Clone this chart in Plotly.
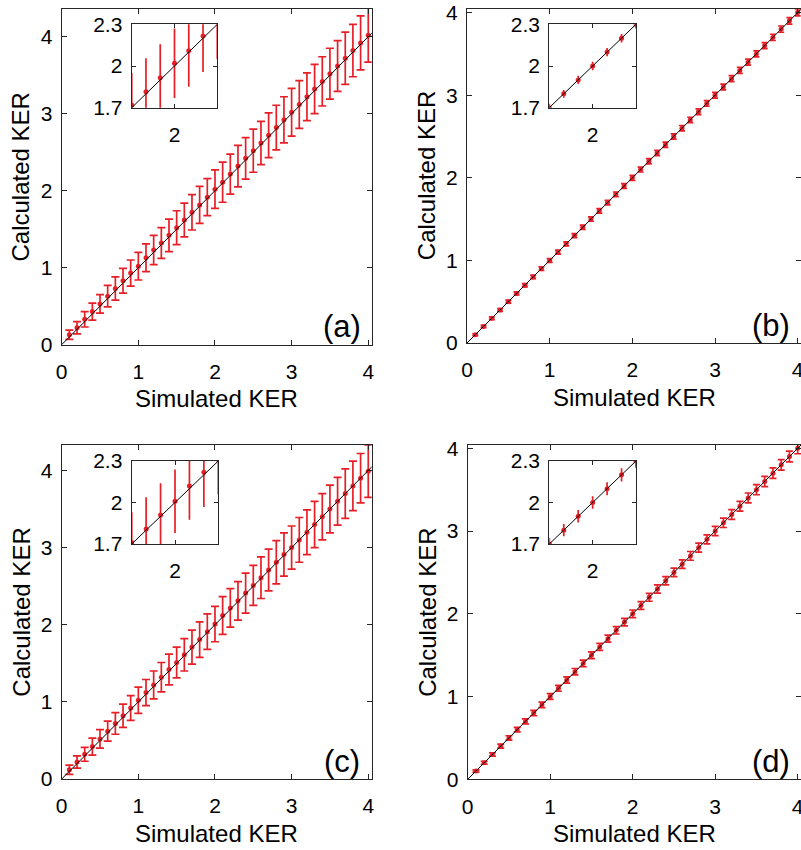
import plotly.graph_objects as go

# ---------------- data ----------------
sim_ker = [0.1, 0.2, 0.3, 0.4, 0.5, 0.6, 0.7, 0.8, 0.9, 1.0,
           1.1, 1.2, 1.3, 1.4, 1.5, 1.6, 1.7, 1.8, 1.9, 2.0,
           2.1, 2.2, 2.3, 2.4, 2.5, 2.6, 2.7, 2.8, 2.9, 3.0,
           3.1, 3.2, 3.3, 3.4, 3.5, 3.6, 3.7, 3.8, 3.9, 4.0]

calc_a = [0.13, 0.22, 0.33, 0.43, 0.53, 0.63, 0.73, 0.83, 0.93, 1.02,
          1.13, 1.23, 1.32, 1.42, 1.52, 1.62, 1.72, 1.815, 1.916, 2.02,
          2.11, 2.216, 2.32, 2.42, 2.52, 2.62, 2.72, 2.82, 2.92, 3.02,
          3.12, 3.22, 3.32, 3.42, 3.52, 3.62, 3.72, 3.82, 3.92, 4.02]
err_a = [0.06, 0.08, 0.10, 0.11, 0.12, 0.14, 0.15, 0.16, 0.17, 0.18,
         0.18, 0.19, 0.20, 0.21, 0.22, 0.22, 0.23, 0.24, 0.24, 0.25,
         0.26, 0.26, 0.27, 0.27, 0.28, 0.28, 0.29, 0.29, 0.30, 0.31,
         0.31, 0.31, 0.32, 0.32, 0.33, 0.33, 0.34, 0.34, 0.35, 0.35]

calc_b = [0.10, 0.20, 0.30, 0.40, 0.50, 0.60, 0.70, 0.80, 0.90, 1.00,
          1.10, 1.20, 1.30, 1.40, 1.50, 1.60, 1.70, 1.80, 1.90, 2.00,
          2.10, 2.20, 2.30, 2.40, 2.50, 2.60, 2.70, 2.80, 2.90, 3.00,
          3.10, 3.20, 3.30, 3.40, 3.50, 3.60, 3.70, 3.80, 3.90, 4.00]
err_b = [0.012, 0.014, 0.016, 0.017, 0.018, 0.019, 0.020, 0.021, 0.022, 0.023,
         0.024, 0.024, 0.025, 0.026, 0.026, 0.027, 0.028, 0.028, 0.029, 0.030,
         0.030, 0.031, 0.031, 0.032, 0.032, 0.033, 0.033, 0.034, 0.034, 0.035,
         0.035, 0.036, 0.036, 0.036, 0.037, 0.037, 0.038, 0.038, 0.039, 0.039]

calc_c = [0.12, 0.22, 0.32, 0.42, 0.52, 0.62, 0.72, 0.82, 0.92, 1.02,
          1.12, 1.22, 1.32, 1.42, 1.51, 1.61, 1.71, 1.808, 1.91, 2.009,
          2.12, 2.218, 2.31, 2.41, 2.51, 2.61, 2.71, 2.81, 2.91, 3.00,
          3.10, 3.20, 3.30, 3.40, 3.50, 3.60, 3.70, 3.80, 3.90, 3.99]
err_c = [0.06, 0.08, 0.09, 0.11, 0.12, 0.13, 0.14, 0.15, 0.16, 0.17,
         0.17, 0.18, 0.19, 0.20, 0.20, 0.21, 0.22, 0.23, 0.23, 0.23,
         0.245, 0.25, 0.25, 0.26, 0.26, 0.27, 0.27, 0.28, 0.28, 0.28,
         0.29, 0.29, 0.30, 0.30, 0.31, 0.31, 0.32, 0.32, 0.32, 0.34]

calc_d = [0.10, 0.20, 0.30, 0.40, 0.50, 0.60, 0.70, 0.80, 0.90, 1.00,
          1.10, 1.20, 1.30, 1.40, 1.50, 1.60, 1.70, 1.80, 1.90, 2.00,
          2.10, 2.20, 2.30, 2.40, 2.50, 2.60, 2.70, 2.80, 2.90, 3.00,
          3.10, 3.20, 3.30, 3.40, 3.50, 3.60, 3.70, 3.80, 3.90, 4.00]
err_d = [0.014, 0.018, 0.021, 0.024, 0.026, 0.028, 0.030, 0.032, 0.033, 0.035,
         0.036, 0.037, 0.039, 0.040, 0.041, 0.042, 0.043, 0.044, 0.045, 0.046,
         0.047, 0.048, 0.049, 0.050, 0.051, 0.052, 0.053, 0.054, 0.055, 0.056,
         0.057, 0.058, 0.059, 0.060, 0.061, 0.062, 0.063, 0.064, 0.065, 0.066]

diag = [0, 5]

main_ticks = [0, 1, 2, 3, 4]
inset_xticks = [2]
inset_yticks = [1.7, 2, 2.3]
inset_yticktext = ["1.7", "2", "2.3"]
panel_labels = ["(a)", "(b)", "(c)", "(d)"]
x_title = "Simulated KER"
y_title = "Calculated KER"

# ---------------- styling / layout ----------------
W, H = 801, 850
RED = "#e81e26"
AX = "#262626"
FONT = "Arial, Liberation Sans, sans-serif"
TICKSIZE = 21
TITLESIZE = 24

def px(x):
    return x / W

def py(y):
    return 1 - y / H

panels = [
    (calc_a, err_a, 4, (61.7, 371.7), (9, 344.7), 4.045, 4.36, (131.7, 217.3), (24.3, 107.7)),
    (calc_b, err_b, 3, (467.0, 801.0), (9.3, 343.0), 4.04, 4.04, (549.3, 636.0), (24.3, 107.7)),
    (calc_c, err_c, 4, (61.7, 371.7), (445.0, 779.0), 4.045, 4.33, (131.7, 218.3), (461.0, 544.0)),
    (calc_d, err_d, 3.5, (467.7, 801.0), (445.0, 779.3), 4.04, 4.04, (549.3, 636.0), (461.0, 544.0)),
]

fig = go.Figure()
layout = dict(
    width=W, height=H,
    margin=dict(l=0, r=0, t=0, b=0, pad=0),
    paper_bgcolor="white", plot_bgcolor="white",
    showlegend=False,
    font=dict(family=FONT, color=AX, size=TICKSIZE),
    annotations=[],
)

def axis_common(standoff):
    return dict(showline=True, linecolor=AX, linewidth=1.3, mirror="ticks",
                ticks="inside", ticklen=5, tickwidth=1.2, tickcolor=AX,
                showgrid=False, zeroline=False, automargin=False,
                ticklabelstandoff=standoff, ticklabeloverflow="allow",
                tickfont=dict(family=FONT, size=TICKSIZE, color="black"))

for i, (calc, err, cap, mx, my, xr, yr, ix, iy) in enumerate(panels):
    m = i + 1
    n = i + 5
    xm = "x" if m == 1 else f"x{m}"
    ym = "y" if m == 1 else f"y{m}"
    xi, yi = f"x{n}", f"y{n}"

    ax = axis_common(8)
    ax.update(domain=[px(mx[0]), px(mx[1])], range=[0, xr], anchor=ym,
              tickvals=main_ticks)
    ay = axis_common(4)
    ay.update(domain=[py(my[1]), py(my[0])], range=[0, yr], anchor=xm,
              tickvals=main_ticks)
    layout["xaxis" if m == 1 else f"xaxis{m}"] = ax
    layout["yaxis" if m == 1 else f"yaxis{m}"] = ay

    bx = axis_common(8)
    bx.update(domain=[px(ix[0]), px(ix[1])], range=[1.7, 2.3], anchor=yi,
              tickvals=inset_xticks, ticktext=["2"], ticklen=4)
    by = axis_common(4)
    by.update(domain=[py(iy[1]), py(iy[0])], range=[1.7, 2.3], anchor=xi,
              tickvals=inset_yticks, ticktext=inset_yticktext, ticklen=4)
    layout[f"xaxis{n}"] = bx
    layout[f"yaxis{n}"] = by

    fig.add_trace(go.Scatter(
        x=sim_ker, y=calc, mode="markers", xaxis=xm, yaxis=ym,
        marker=dict(color=RED, size=5),
        error_y=dict(type="data", array=err, color=RED, thickness=1.7, width=cap)))
    fig.add_trace(go.Scatter(
        x=diag, y=diag, mode="lines", xaxis=xm, yaxis=ym,
        line=dict(color="black", width=1)))
    fig.add_trace(go.Scatter(
        x=sim_ker, y=calc, mode="markers", xaxis=xi, yaxis=yi,
        marker=dict(color=RED, size=5),
        error_y=dict(type="data", array=err, color=RED, thickness=1.7, width=0)))
    fig.add_trace(go.Scatter(
        x=diag, y=diag, mode="lines", xaxis=xi, yaxis=yi,
        line=dict(color="black", width=1)))

    xc = (mx[0] + mx[1]) / 2
    layout["annotations"].append(dict(
        text=x_title, xref="paper", yref="paper", x=px(xc), y=py(my[1] + 54),
        showarrow=False, xanchor="center", yanchor="middle",
        font=dict(family=FONT, size=TITLESIZE, color="black")))
    layout["annotations"].append(dict(
        text=y_title, xref="paper", yref="paper", x=px(mx[0] - 41), y=py((my[0] + my[1]) / 2),
        showarrow=False, xanchor="center", yanchor="middle", textangle=-90,
        font=dict(family=FONT, size=TITLESIZE, color="black")))
    layout["annotations"].append(dict(
        text=panel_labels[i], xref="paper", yref="paper",
        x=px(mx[1] - 30), y=py(my[1] - 18),
        showarrow=False, xanchor="center", yanchor="middle",
        font=dict(family=FONT, size=31, color="black")))

fig.update_layout(**layout)
fig.write_html("out.html", config={"responsive": False, "displayModeBar": False},
               post_script="document.body.style.margin='0';document.body.style.padding='0';")
